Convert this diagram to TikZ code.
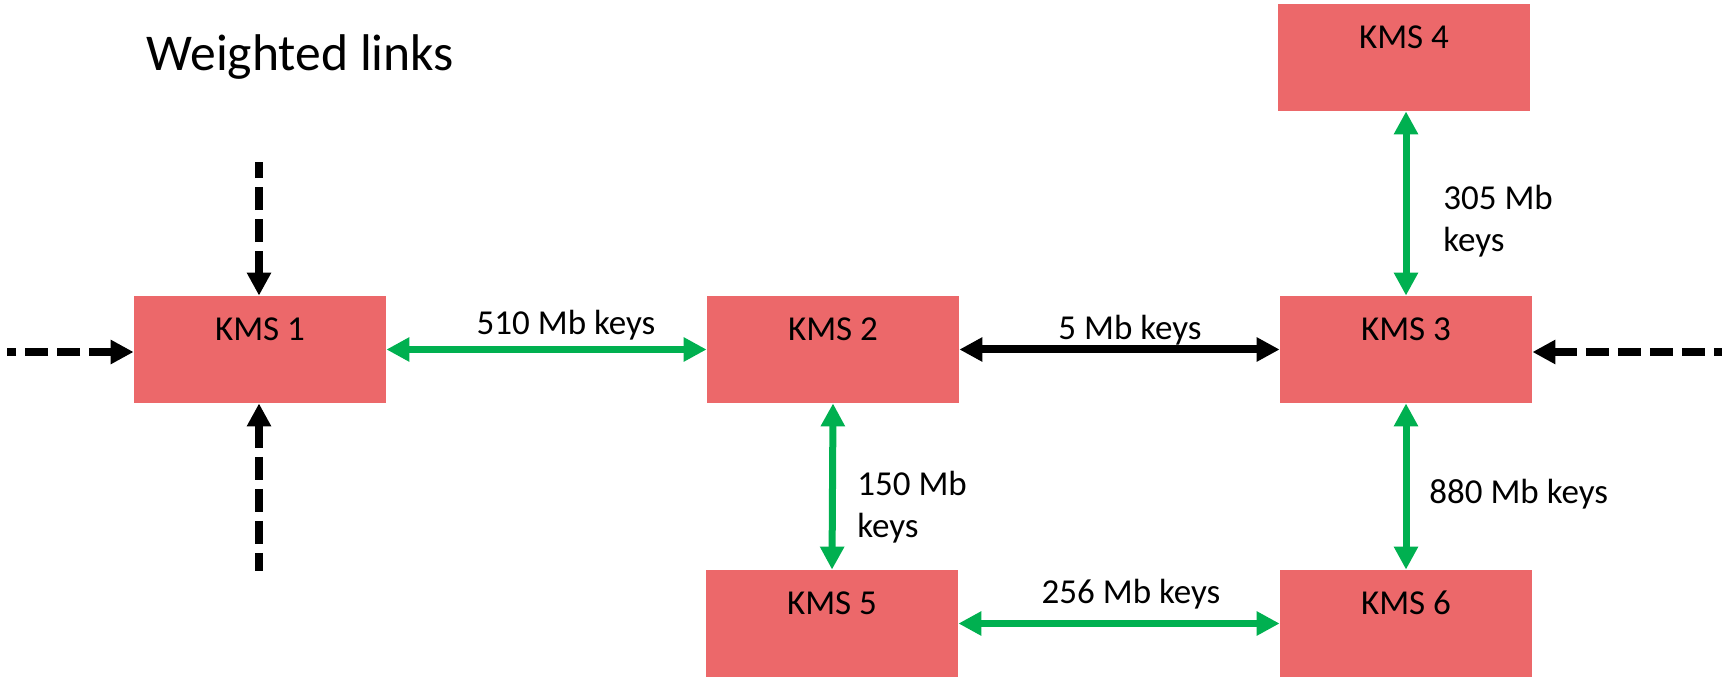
\documentclass[tikz,border=0pt]{standalone}
\usepackage{fontspec}
\setmainfont{Carlito}
\usetikzlibrary{arrows.meta}
\definecolor{kmsred}{RGB}{236,104,106}
\definecolor{linkgreen}{RGB}{0,176,80}
\begin{document}
\begin{tikzpicture}[x=0.5pt,y=-0.5pt,
  kms/.style={fill=kmsred, draw=none, minimum width=126pt, inner xsep=0pt, inner ysep=0pt,
    text height=22.25pt, text depth=31.25pt, font=\fontsize{17.5}{21}\selectfont},
  link/.style={line width=3.5pt, draw=linkgreen,
    {Triangle[length=11.5pt,width=11.5pt]}-{Triangle[length=11.5pt,width=11.5pt]}},
  blacklink/.style={line width=4pt, draw=black,
    {Triangle[length=11.5pt,width=11.5pt]}-{Triangle[length=11.5pt,width=11.5pt]}},
  dasharrow/.style={line width=4pt, draw=black, dash pattern=on 11.5pt off 4.5pt,
    {Triangle[length=11.5pt,width=11.5pt]}-},
  lbl/.style={inner sep=0pt, font=\fontsize{17.5}{21}\selectfont},
  titlestyle/.style={inner sep=0pt, font=\fontsize{25.8}{31}\selectfont}
]
\useasboundingbox (0,0) rectangle (1722,678);

\node[titlestyle, anchor=base west] (title) at (146,71) {Weighted links};

\node[kms] (kms1) at (260,349.5) {KMS 1};
\node[kms] (kms2) at (833,349.5) {KMS 2};
\node[kms] (kms3) at (1406,349.5) {KMS 3};
\node[kms] (kms4) at (1404,57.5) {KMS 4};
\node[kms] (kms5) at (832,623.5) {KMS 5};
\node[kms] (kms6) at (1406,623.5) {KMS 6};

\coordinate (t1) at (259,162);
\coordinate (b1) at (259,571);
\coordinate (l1) at (7,352);
\coordinate (r3) at (1722,352);

\draw[dasharrow] (t1 |- kms1.north) -- (t1);
\draw[dasharrow] (b1 |- kms1.south) -- (b1);
\draw[dasharrow] (l1 -| kms1.west) -- (l1);
\draw[dasharrow] (r3 -| kms3.east) -- (r3);

\draw[link] (kms1.east) -- (kms2.west);
\draw[blacklink] (kms2.east) -- (kms3.west);
\draw[link] (kms5.east) -- (kms6.west);
\draw[link] (kms2.south) -- (kms5.north);
\draw[link] (kms3.south) -- (kms6.north);
\draw[link] (kms3.north) -- (kms3.north |- kms4.south);

\node[lbl, anchor=base] (l510) at (566,335) {510 Mb keys};
\node[lbl, anchor=base] (l5) at (1130,340) {5 Mb keys};
\node[lbl, anchor=base] (l256) at (1131,603) {256 Mb keys};
\node[lbl, anchor=base west] (l880) at (1429,503) {880 Mb keys};
\node[lbl, anchor=base west, align=left] (l305) at (1443,252) {305 Mb\\keys};
\node[lbl, anchor=base west, align=left] (l150) at (857,537) {150 Mb\\keys};
\end{tikzpicture}
\end{document}
